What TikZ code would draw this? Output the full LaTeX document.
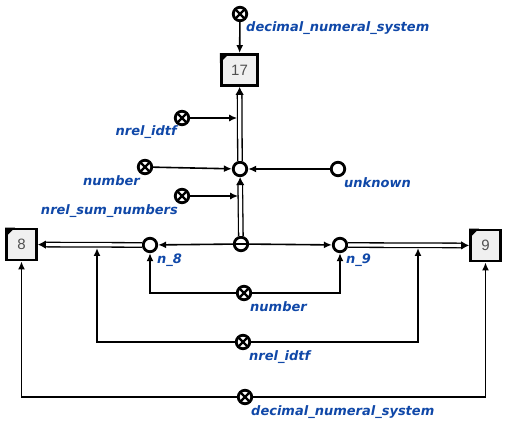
\documentclass[tikz,border=0pt]{standalone}
\usepackage{fontspec}
\setmainfont{DejaVu Sans}
\newfontfamily\boxfont{Liberation Sans}
\usetikzlibrary{arrows.meta,decorations.markings,calc}
\definecolor{labblue}{RGB}{16,72,168}
\definecolor{boxfill}{RGB}{240,240,240}
\definecolor{boxtext}{RGB}{80,80,80}
\tikzset{
  varnode/.style={circle, draw, line width=2.8pt, fill=white, minimum size=13.5pt, inner sep=0pt},
  constnode/.style={varnode, path picture={\draw[black, line width=2.2pt] (path picture bounding box.north west) -- (path picture bounding box.south east) (path picture bounding box.north east) -- (path picture bounding box.south west);}},
  minusnode/.style={varnode, path picture={\draw[black, line width=2.2pt] (path picture bounding box.west) -- (path picture bounding box.east);}},
  linkbox/.style={draw, line width=2.8pt, fill=boxfill, minimum width=30pt, minimum height=31pt, inner xsep=10pt, inner ysep=0pt,
    font=\boxfont\fontsize{15}{15}\selectfont, text=boxtext},
  corner/.style={fill=black},
  lab/.style={font=\bfseries\itshape\fontsize{13}{15}\selectfont, text=labblue, inner sep=0pt},
  arc/.style={draw, line width=1.6pt, -{Latex[length=8pt,width=7pt]}},
  dblline/.style={draw, line width=1.3pt, double=white, double distance=3.2pt, shorten >=7pt},
  dbltip/.style={postaction={decorate}, decoration={markings, mark=at position 1 with {\arrow[line width=1pt]{Latex[length=8pt,width=8.5pt]}}}},
}
\begin{document}
\begin{tikzpicture}[x=1pt,y=-1pt]
\useasboundingbox (0,0) rectangle (508,427);
% nodes
\node[constnode] (dnstop) at (240,14) {};
\node[linkbox] (b17) at (239.5,70) {17};
\node[constnode] (idtftop) at (182,118) {};
\node[varnode] (c) at (240,169) {};
\node[constnode] (numtop) at (145,167) {};
\node[varnode] (unk) at (338,169) {};
\node[constnode] (sum) at (182,196) {};
\node[minusnode] (m) at (241,244) {};
\node[varnode] (n8) at (150,245) {};
\node[varnode] (n9) at (340,245) {};
\node[linkbox] (b8) at (21.5,244.5) {8};
\node[linkbox] (b9) at (485.5,245.5) {9};
\node[constnode] (numbot) at (244,293) {};
\node[constnode] (idtfbot) at (243,342) {};
\node[constnode] (dnsbot) at (245,397) {};
% corner marks of the link boxes
\foreach \b in {b17,b8,b9}
  \fill[corner] (\b.north west) -- ++(10,0) -- ++(-10,10) -- cycle;
% labels
\node[lab, anchor=base west] (l1) at (246,32) {decimal\_numeral\_system};
\node[lab, anchor=base east] (l2) at (177,136) {nrel\_idtf};
\node[lab, anchor=base east] (l3) at (140,186) {number};
\node[lab, anchor=base west] (l4) at (344,188) {unknown};
\node[lab, anchor=base east] (l5) at (178,215) {nrel\_sum\_numbers};
\node[lab, anchor=base west] (l6) at (157,264) {n\_8};
\node[lab, anchor=base west] (l7) at (346,264) {n\_9};
\node[lab, anchor=base west] (l8) at (250,311) {number};
\node[lab, anchor=base west] (l9) at (249,360) {nrel\_idtf};
\node[lab, anchor=base west] (l10) at (251,415) {decimal\_numeral\_system};
% junction coordinates on double lines
\coordinate (j17) at (237.2,118);
\coordinate (jc) at (238.2,196);
\coordinate (j8) at (97,248);
\coordinate (j9) at (418,248);
% double connectors
\path[dblline, dbltip] (c) -- (b17);
\path[dblline, dbltip] (m) -- (c);
\path[dblline, dbltip] (n8) -- (b8);
\path[dblline, dbltip] (n9) -- (b9);
% single connectors
\path[arc] (dnstop) -- (b17);
\path[arc] (idtftop) -- (j17);
\path[arc] (numtop) -- (c);
\path[arc] (unk) -- (c);
\path[arc] (sum) -- (jc);
\path[arc] (m) -- (n8);
\path[arc] (m) -- (n9);
\path[arc] (numbot) -| (n8);
\path[arc] (numbot) -| (n9);
\path[arc] (idtfbot) -| (j8);
\path[arc] (idtfbot) -| (j9);
\path[arc] (dnsbot) -| (b8);
\path[arc] (dnsbot) -| (b9);
\end{tikzpicture}
\end{document}
